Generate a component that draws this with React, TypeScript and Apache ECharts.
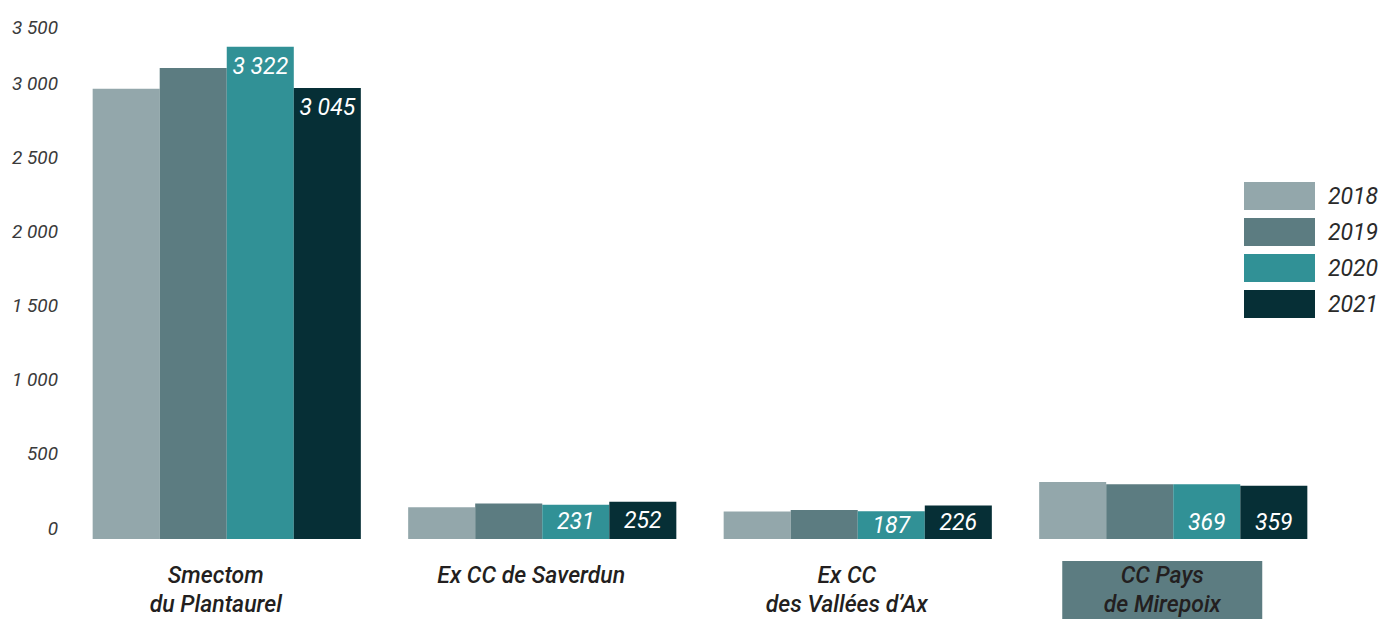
import React, { useEffect, useRef } from "react";
import * as echarts from "echarts";

const categories = ["Smectom\ndu Plantaurel", "Ex CC de Saverdun", "Ex CC\ndes Vallées d’Ax", "CC Pays\nde Mirepoix"];
const years = ["2018", "2019", "2020", "2021"];
const values2018 = [3040, 215, 185, 385];
const values2019 = [3180, 240, 195, 370];
const values2020 = [3322, 231, 187, 369];
const values2021 = [3045, 252, 226, 359];
const yTicks = [0, 500, 1000, 1500, 2000, 2500, 3000, 3500];
const labelledYears = ["2020", "2021"];
const highlightedCategory = "CC Pays\nde Mirepoix";

const colors = ["#93a7ab", "#5c7c81", "#319196", "#062f36"];
const FONT = "Roboto, 'Liberation Sans', sans-serif";

function fmt(v: number): string {
  if (v >= 1000) {
    return Math.floor(v / 1000) + " " + String(v % 1000).padStart(3, "0");
  }
  return String(v);
}

export default function App() {
  const ref = useRef<HTMLDivElement>(null);
  useEffect(() => {
    if (!ref.current) return;
    const chart = echarts.init(ref.current, null, { renderer: "svg" });
    const seriesValues = [values2018, values2019, values2020, values2021];
    const labelPos = ["insideTop", "inside", "inside", "insideBottom"];
    const series = years.map((y, si) => ({
      name: y,
      type: "bar",
      barGap: "0%",
      barCategoryGap: "15%",
      itemStyle: { color: colors[si] },
      data: seriesValues[si].map((v, ci) => ({
        value: v,
        label: {
          show: labelledYears.includes(y),
          position: labelPos[ci],
          distance: ci === 0 ? 8 : 5,
          formatter: (p: any) => fmt(p.value),
          color: "#ffffff",
          fontFamily: FONT,
          fontStyle: "italic",
          fontSize: 23,
        },
      })),
    }));
    const catText = {
      fontFamily: FONT,
      fontStyle: "italic",
      fontWeight: 500,
      fontSize: 23,
      lineHeight: 29,
      color: "#231f20",
    };
    const yText = {
      fontFamily: FONT,
      fontStyle: "italic",
      fontSize: 19,
      color: "#3a3a3a",
    };
    const yMax = yTicks[yTicks.length - 1];
    chart.setOption({
      animation: false,
      color: colors,
      grid: { left: 69, right: 51, top: 20, bottom: 70, containLabel: false },
      legend: {
        orient: "vertical",
        left: 1244,
        top: 182,
        padding: 0,
        itemWidth: 71,
        itemHeight: 28,
        itemGap: 8,
        icon: "rect",
        data: years,
        textStyle: {
          fontFamily: FONT,
          fontStyle: "italic",
          fontSize: 23,
          color: "#2a2a2a",
          padding: [0, 0, 0, 8],
        },
      },
      xAxis: {
        type: "category",
        data: categories,
        axisLine: { show: false },
        axisTick: { show: false },
        axisLabel: {
          interval: 0,
          margin: 22,
          ...catText,
          padding: [0, 22, 0, 0],
          formatter: (v: string) => {
            if (v === highlightedCategory) {
              return v.split("\n").map((l) => "{hl|" + l + "}").join("\n");
            }
            return v;
          },
          rich: {
            hl: {
              ...catText,
              backgroundColor: "#5c7c81",
              width: 200,
              height: 29,
              align: "center",
            },
          },
        },
      },
      yAxis: {
        type: "value",
        min: yTicks[0],
        max: yMax,
        interval: 500,
        axisLine: { show: false },
        axisTick: { show: false },
        splitLine: { show: false },
        axisLabel: {
          margin: 11,
          verticalAlign: "middle",
          ...yText,
          formatter: (v: number) => {
            if (v === yMax) return "{sp2| }\n{n|" + fmt(v) + "}";
            return "{n|" + fmt(v) + "}\n{sp| }";
          },
          rich: {
            n: { ...yText, lineHeight: 22 },
            sp: { ...yText, lineHeight: 22 },
            sp2: { ...yText, lineHeight: 14 },
          },
        },
      },
      series,
    });
    return () => chart.dispose();
  }, []);
  return (
    <div
      ref={ref}
      style={{ position: "fixed", left: 0, top: 0, width: 1382, height: 619, background: "#ffffff" }}
    />
  );
}
